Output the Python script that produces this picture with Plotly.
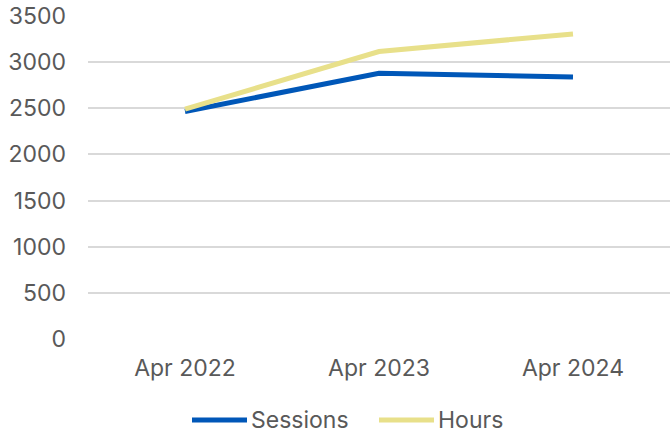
import plotly.graph_objects as go

categories = ["Apr 2022", "Apr 2023", "Apr 2024"]
sessions = [2465, 2880, 2840]
hours = [2490, 3115, 3306]
y_ticks = [0, 500, 1000, 1500, 2000, 2500, 3000, 3500]
series_names = ["Sessions", "Hours"]
series_colors = ["#0057B8", "#E8E08A"]

fig = go.Figure()
for name, vals, col in zip(series_names, [sessions, hours], series_colors):
    fig.add_trace(go.Scatter(x=categories, y=vals, name=name, mode="lines",
                             line=dict(color=col, width=5), showlegend=False))

font = dict(family="Inter", size=23, color="#595959")

# manual legend (wider line samples like the reference)
leg_x = [192, 379]  # pixel positions of legend line samples
for i, (name, col) in enumerate(zip(series_names, series_colors)):
    x0 = leg_x[i]
    fig.add_shape(type="line", xref="paper", yref="paper",
                  x0=(x0 - 88) / 582, x1=(x0 + 55 - 88) / 582,
                  y0=(339 - 420) / 323, y1=(339 - 420) / 323,
                  line=dict(color=col, width=5))
    fig.add_annotation(text=name, xref="paper", yref="paper",
                       x=(x0 + 57 - 88) / 582, y=(339 - 420) / 323,
                       xanchor="left", yanchor="middle", showarrow=False, font=font)

fig.update_layout(
    width=670, height=434,
    margin=dict(l=88, r=0, t=16, b=95),
    paper_bgcolor="white", plot_bgcolor="white",
    font=font,
    showlegend=False,
    xaxis=dict(type="category", range=[-0.5, 2.5], showgrid=False, zeroline=False,
               showline=False, ticks="", ticklabelstandoff=13, tickfont=font,
               automargin=False),
    yaxis=dict(range=[0, 3500], tickvals=y_ticks, showgrid=True, gridcolor="#D9D9D9",
               gridwidth=1.5, zeroline=False, showline=False, ticks="",
               ticklabelstandoff=21, tickfont=font, automargin=False),
)
fig.write_html("out.html", config={"displayModeBar": False},
               post_script="document.body.style.margin='0';document.body.style.overflow='hidden';")
